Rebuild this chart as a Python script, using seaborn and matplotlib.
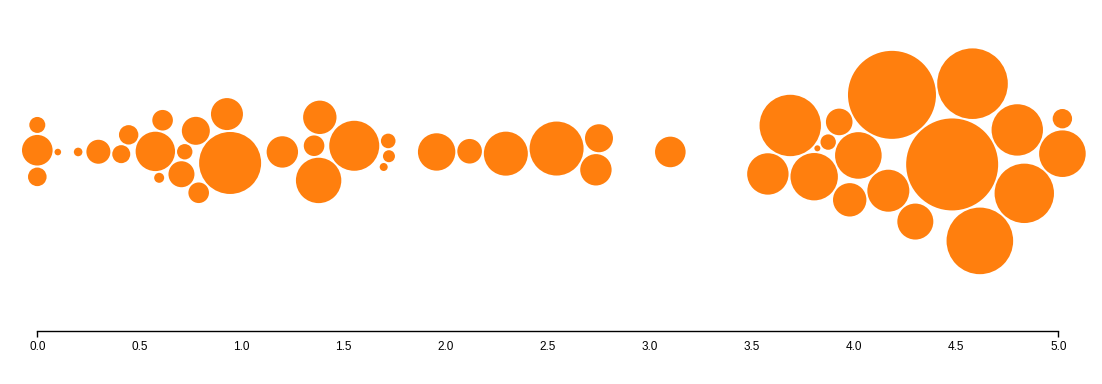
import numpy as np
import pandas as pd
import matplotlib
matplotlib.use("Agg")
import matplotlib.pyplot as plt
import seaborn as sns

# ---- data (value on the x axis, bubble radius in px) ----
values = [0.00, 0.00, 0.00, 0.10, 0.20, 0.30, 0.41, 0.46, 0.585, 0.595,
          0.61, 0.695, 0.71, 0.785, 0.80, 0.93, 0.94, 1.20, 1.37, 1.38,
          1.38, 1.55, 1.70, 1.71, 1.72, 1.956, 2.123, 2.30, 2.54, 2.73,
          2.75, 3.10, 3.59, 3.69, 3.82, 3.82, 3.875, 3.97, 3.99, 4.05,
          4.145, 4.20, 4.27, 4.49, 4.56, 4.60, 4.81, 4.81, 4.99, 5.02]
radii = [15.3, 9.3, 8.0, 3.3, 4.3, 12.0, 9.0, 9.7, 19.7, 5.0,
         10.3, 13.0, 7.7, 14.0, 10.3, 16.0, 31.0, 15.7, 10.3, 22.7,
         16.7, 25.0, 4.0, 7.3, 6.0, 18.7, 12.3, 22.0, 27.0, 15.7,
         14.0, 15.3, 20.7, 30.7, 3.0, 23.7, 7.7, 13.3, 16.7, 23.3,
         21.0, 44.0, 18.0, 46.0, 35.3, 33.3, 25.7, 29.7, 23.3, 9.7]
tick_values = [0.0, 0.5, 1.0, 1.5, 2.0, 2.5, 3.0, 3.5, 4.0, 4.5, 5.0]

# ---- layout constants ----
W, H, DPI = 1102, 384, 100
X0, X1 = 37.3, 1058.3          # pixel extent of the axis
AXIS_Y = 331                    # pixel row of the axis line
CENTER_Y = 152                  # centre line of the swarm
PX_PER_UNIT = (X1 - X0) / 5.0

v = np.asarray(values, float)
r = np.asarray(radii, float)
n = len(v)

# ---- d3-like force simulation (forceX, forceY, forceCollide) ----
tx = v * PX_PER_UNIT
ty = np.full(n, CENTER_Y, float)
ia = np.pi * (3 - np.sqrt(5))
idx = np.arange(n)
x = 10 * np.sqrt(0.5 + idx) * np.cos(idx * ia)
y = 10 * np.sqrt(0.5 + idx) * np.sin(idx * ia)
vx = np.zeros(n); vy = np.zeros(n)
alpha, amin = 1.0, 0.001
adecay = 1 - amin ** (1 / 300)
vdecay = 0.4
sx, sy = 1.0, 0.1
rc = r + 1.0
for _ in range(300):
    alpha += (0 - alpha) * adecay
    vx += (tx - x) * sx * alpha
    vy += (ty - y) * sy * alpha
    for i in range(n - 1):
        xi = x[i] + vx[i]; yi = y[i] + vy[i]
        j = np.arange(i + 1, n)
        dx = xi - x[j] - vx[j]
        dy = yi - y[j] - vy[j]
        rr = rc[i] + rc[j]
        l2 = dx * dx + dy * dy
        m = l2 < rr * rr
        if not m.any():
            continue
        j = j[m]; dx = dx[m]; dy = dy[m]; rr = rr[m]
        dy = np.where((dx == 0) & (dy == 0), 1e-6, dy)
        l = np.sqrt(dx * dx + dy * dy)
        k = (rr - l) / l
        dx *= k; dy *= k
        rj2 = rc[j] ** 2
        w = rj2 / (rc[i] ** 2 + rj2)
        vx[i] += np.sum(dx * w); vy[i] += np.sum(dy * w)
        vx[j] -= dx * (1 - w); vy[j] -= dy * (1 - w)
    vx *= 1 - vdecay; vy *= 1 - vdecay
    x += vx; y += vy

area = (2 * r * 72.0 / DPI) ** 2
df = pd.DataFrame({"x": x / PX_PER_UNIT, "y": y, "s": area})

# ---- drawing ----
sns.set_style("white")
plt.rcParams["font.family"] = ["Liberation Sans", "DejaVu Sans"]
fig = plt.figure(figsize=(W / DPI, H / DPI), dpi=DPI)
ax = fig.add_axes([X0 / W, (H - AXIS_Y) / H, (X1 - X0) / W, AXIS_Y / H])
sns.scatterplot(data=df, x="x", y="y", size="s",
                sizes=(area.min(), area.max()), size_norm=(area.min(), area.max()),
                color="#ff7f0e", linewidth=0, alpha=1, legend=False,
                clip_on=False, ax=ax)
ax.set_xlim(0, 5)
ax.set_ylim(AXIS_Y, 0)
ax.set_xlabel(""); ax.set_ylabel("")
ax.set_yticks([])
for s in ["left", "right", "top"]:
    ax.spines[s].set_visible(False)
ax.spines["bottom"].set_color("black")
ax.spines["bottom"].set_linewidth(1)
ax.xaxis.remove_overlapping_locs = False
ax.set_xticks(tick_values)
ax.set_xticklabels([f"{t:.1f}" for t in tick_values])
ax.set_xticks([tick_values[0], tick_values[-1]], minor=True)
ax.tick_params(axis="x", which="major", length=0, pad=7.5, labelsize=8.5,
               labelcolor="black")
ax.tick_params(axis="x", which="minor", length=4.3, width=1, color="black",
               direction="out", bottom=True, labelbottom=False)
fig.savefig("out.png", dpi=DPI)
